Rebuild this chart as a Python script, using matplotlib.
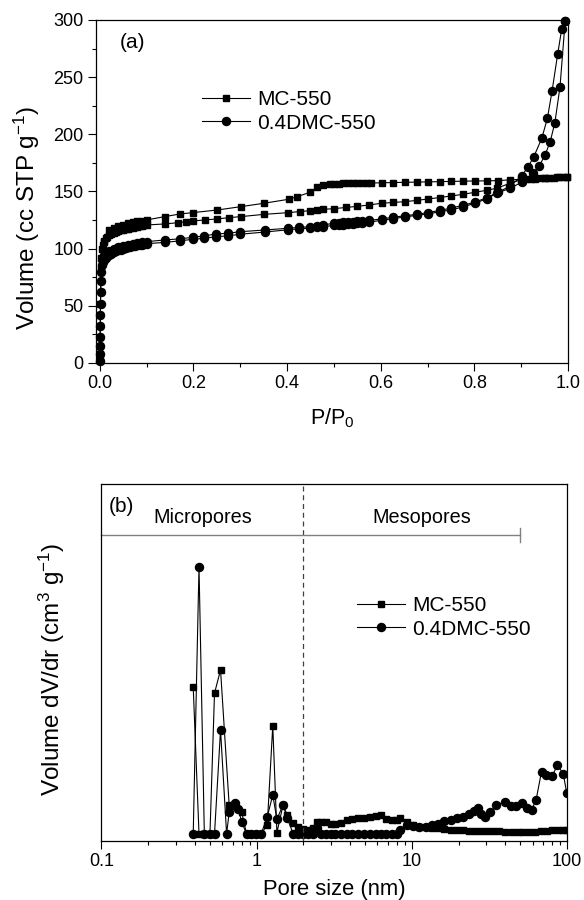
import matplotlib
matplotlib.use("Agg")
import matplotlib.pyplot as plt
from matplotlib.ticker import MultipleLocator, LogLocator, NullFormatter, FixedLocator, FixedFormatter

plt.rcParams['font.family'] = ['Liberation Sans', 'DejaVu Sans']
plt.rcParams['mathtext.fontset'] = 'custom'
plt.rcParams['mathtext.rm'] = 'Liberation Sans'
plt.rcParams['mathtext.it'] = 'Liberation Sans:italic'

# ---------------- Panel (a): N2 isotherms ----------------
mc_ads_p = [0.0003, 0.0005, 0.0007, 0.0009, 0.0011, 0.0013, 0.0015, 0.0018, 0.0022, 0.0028, 0.0036, 0.0045,
            0.006, 0.008, 0.01, 0.013, 0.016, 0.02, 0.025, 0.03, 0.035, 0.04, 0.045, 0.05, 0.055, 0.06, 0.065,
            0.07, 0.075, 0.08, 0.085, 0.09, 0.095, 0.1, 0.139, 0.167, 0.185, 0.199, 0.224, 0.251, 0.276, 0.301,
            0.351, 0.403, 0.427, 0.449, 0.463, 0.477, 0.501, 0.525, 0.55, 0.575, 0.602, 0.627, 0.652, 0.677,
            0.70, 0.726, 0.751, 0.776, 0.801, 0.826, 0.848, 0.876, 0.901, 0.926, 0.951, 0.976, 0.997]
mc_ads_v = [2, 8, 15, 23, 32, 42, 52, 62, 72, 82, 91.5, 99.4,
            103, 105.5, 107, 109, 110.5, 112, 113, 114, 114.8, 115.5, 116, 116.6, 117.1, 117.6, 118,
            118.4, 118.8, 119.2, 119.6, 120, 120.3, 120.7, 121.6, 122.7, 123.6, 124.2, 125.1, 126.0, 127.1, 128.0,
            130.0, 131.5, 132.4, 133.2, 133.8, 134.4, 135.0, 136.0, 137.0, 138.2, 139.7, 140.4, 141.1, 142.2,
            143.4, 144.7, 146.1, 147.5, 149.3, 151.0, 152.8, 157.2, 160.5, 161.5, 162.0, 162.5, 163.0]

mc_des_p = [0.997, 0.99, 0.98, 0.97, 0.96, 0.95, 0.94, 0.93, 0.92, 0.91, 0.90, 0.876, 0.851, 0.826, 0.801,
            0.776, 0.751, 0.726, 0.70, 0.677, 0.652, 0.627, 0.602, 0.58, 0.57, 0.56, 0.55, 0.54, 0.53, 0.52,
            0.51, 0.50, 0.491, 0.477, 0.465, 0.449, 0.422, 0.404, 0.351, 0.301, 0.251, 0.199, 0.171, 0.139,
            0.1, 0.09, 0.08, 0.07, 0.06, 0.05, 0.04, 0.03, 0.02]
mc_des_v = [163.0, 162.8, 162.5, 162.2, 162.0, 161.8, 161.5, 161.2, 161.0, 160.8, 160.6, 160.2, 159.5, 159.3,
            159.2, 159.0, 158.8, 158.6, 158.4, 158.2, 158.0, 157.8, 157.6, 157.4, 157.3, 157.2, 157.2, 157.1,
            157.0, 157.0, 156.9, 156.8, 156.6, 156.0, 153.7, 149.3, 145.5, 143.2, 139.7, 136.7, 133.8, 131.5,
            130.3, 128.0, 125.1, 124.5, 123.8, 123.0, 122.0, 121.0, 119.8, 118.3, 116.5]

dmc_ads_p = [0.0003, 0.0005, 0.0007, 0.0009, 0.0011, 0.0013, 0.0016, 0.002, 0.0026, 0.0036, 0.005, 0.007,
             0.01, 0.013, 0.016, 0.02, 0.025, 0.03, 0.035, 0.04, 0.045, 0.05, 0.055, 0.06, 0.065, 0.07, 0.075,
             0.08, 0.085, 0.09, 0.095, 0.1, 0.139, 0.171, 0.199, 0.223, 0.249, 0.274, 0.30, 0.352, 0.402, 0.425,
             0.449, 0.465, 0.477, 0.50, 0.51, 0.52, 0.53, 0.54, 0.55, 0.56, 0.576, 0.602, 0.627, 0.652, 0.677,
             0.70, 0.726, 0.751, 0.776, 0.801, 0.826, 0.848, 0.876, 0.901, 0.926, 0.939, 0.951, 0.962, 0.972,
             0.983, 0.994]
dmc_ads_v = [2, 8, 15, 23, 32, 42, 52, 62, 72, 80, 85.7, 88.5,
             90.5, 92, 93.2, 94.5, 95.7, 96.7, 97.6, 98.4, 99.1, 99.8, 100.4, 101.0, 101.5, 102.0, 102.4,
             102.8, 103.2, 103.6, 104.0, 104.3, 105.5, 106.8, 108.2, 109.0, 110.5, 111.2, 112.6, 114.5, 116.5,
             117.3, 118.0, 118.6, 119.2, 120.3, 120.7, 121.1, 121.5, 121.9, 122.2, 122.6, 123.2, 124.8, 126.2,
             127.8, 129.1, 130.4, 132.2, 134.0, 136.5, 139.7, 143.5, 148.4, 152.8, 158.0, 165.9, 172.6, 181.9,
             193.6, 210.2, 241.8, 299.4]

dmc_des_p = [0.994, 0.9865, 0.978, 0.966, 0.956, 0.944, 0.927, 0.915, 0.901, 0.876, 0.851, 0.826, 0.801,
             0.776, 0.751, 0.726, 0.70, 0.677, 0.652, 0.627, 0.602, 0.576, 0.56, 0.55, 0.54, 0.53, 0.52, 0.51,
             0.50, 0.477, 0.465, 0.449, 0.425, 0.402, 0.352, 0.30, 0.274, 0.249, 0.223, 0.199, 0.171, 0.139,
             0.1, 0.09, 0.08, 0.07, 0.06, 0.05, 0.04, 0.03, 0.02, 0.015, 0.01]
dmc_des_v = [299.4, 291.9, 270.3, 237.9, 214.0, 196.5, 180.4, 171.7, 163.6, 154.5, 149.5, 144.5, 140.6,
             138.0, 135.5, 133.4, 131.5, 130.0, 128.8, 127.5, 126.0, 124.8, 124.2, 123.8, 123.5, 123.2, 122.9,
             122.6, 122.2, 120.7, 120.1, 119.2, 118.6, 117.8, 116.3, 114.8, 113.5, 112.8, 111.2, 109.9, 108.6,
             107.6, 106.1, 105.5, 104.8, 104.0, 103.2, 102.3, 101.2, 99.8, 97.8, 96.5, 94.5]

# ---------------- Panel (b): pore size distributions ----------------
mc_d = [0.39, 0.425, 0.46, 0.50, 0.535, 0.585, 0.665, 0.72, 0.80, 0.86, 0.925, 0.99, 1.07, 1.17, 1.27,
        1.35, 1.48, 1.57, 1.72, 1.85, 2.0, 2.15, 2.3, 2.45, 2.6, 2.8, 3.0, 3.2, 3.5, 3.8, 4.1, 4.5, 4.9,
        5.4, 5.9, 6.3, 6.8, 7.4, 8.0, 8.4, 9.3, 10.2, 11.2, 12.3, 13.5, 14.8, 16.2, 17.8, 19.5, 21.3,
        23.3, 25.5, 28.0, 30.5, 33.5, 36.5, 40, 44, 48, 52, 57, 62, 68, 74, 80, 87, 94, 99.6]
mc_dv = [0.432, 0.02, 0.02, 0.02, 0.414, 0.479, 0.100, 0.098, 0.082, 0.02, 0.02, 0.02, 0.02, 0.045, 0.323,
         0.023, 0.101, 0.073, 0.050, 0.040, 0.033, 0.030, 0.035, 0.052, 0.054, 0.052, 0.048, 0.048, 0.050,
         0.060, 0.062, 0.063, 0.065, 0.066, 0.070, 0.073, 0.062, 0.058, 0.060, 0.064, 0.052, 0.045, 0.040,
         0.038, 0.036, 0.036, 0.034, 0.032, 0.030, 0.030, 0.029, 0.028, 0.028, 0.027, 0.027, 0.027, 0.026,
         0.026, 0.025, 0.025, 0.024, 0.025, 0.027, 0.029, 0.030, 0.031, 0.032, 0.031]

dmc_d = [0.39, 0.425, 0.46, 0.50, 0.535, 0.585, 0.64, 0.665, 0.724, 0.76, 0.80, 0.86, 0.925, 0.99, 1.07,
         1.17, 1.27, 1.35, 1.48, 1.57, 1.72, 1.85, 2.0, 2.15, 2.3, 2.45, 2.6, 2.8, 3.0, 3.2, 3.5, 3.8, 4.1,
         4.5, 4.9, 5.4, 5.9, 6.3, 6.8, 7.4, 8.0, 8.4, 9.3, 10.2, 11.2, 12.3, 13.5, 14.8, 16.2, 17.8, 19.5,
         21.3, 23.3, 25.0, 26.5, 28.0, 29.6, 32.0, 35.0, 39.8, 43.8, 47.0, 51.1, 55.2, 59.3, 63.2, 68.5,
         73.5, 80.2, 86.7, 94.6, 99.6]
dmc_dv = [0.02, 0.768, 0.02, 0.02, 0.02, 0.311, 0.02, 0.080, 0.106, 0.090, 0.054, 0.02, 0.02, 0.02, 0.02,
          0.068, 0.129, 0.061, 0.101, 0.065, 0.02, 0.02, 0.02, 0.02, 0.02, 0.036, 0.02, 0.02, 0.02, 0.02,
          0.02, 0.02, 0.02, 0.02, 0.02, 0.02, 0.02, 0.02, 0.02, 0.02, 0.02, 0.030, 0.045, 0.042, 0.040, 0.040,
          0.044, 0.048, 0.055, 0.060, 0.063, 0.068, 0.075, 0.085, 0.092, 0.075, 0.068, 0.080, 0.100, 0.110,
          0.097, 0.097, 0.105, 0.092, 0.088, 0.115, 0.194, 0.185, 0.181, 0.213, 0.188, 0.134]

labels = ['MC-550', '0.4DMC-550']
micro_meso_boundary = 2.0
meso_upper = 50.0

fig = plt.figure(figsize=(5.84, 9.0), dpi=100)

lw = 0.8
SQ = 5.0
CI = 5.8
# ---------- (a) ----------
ax1 = fig.add_axes([0.1644, 0.5967, 0.8082, 0.3811])
sq_kw = dict(color='black', marker='s', markersize=SQ, linewidth=lw, clip_on=False)
ci_kw = dict(color='black', marker='o', markersize=CI, linewidth=lw, clip_on=False)
l1, = ax1.plot(mc_ads_p, mc_ads_v, **sq_kw)
ax1.plot(mc_des_p, mc_des_v, **sq_kw)
l2, = ax1.plot(dmc_ads_p, dmc_ads_v, **ci_kw)
ax1.plot(dmc_des_p, dmc_des_v, **ci_kw)
ax1.set_xlim(-0.008, 1.0)
ax1.set_ylim(0, 300)
ax1.xaxis.set_major_locator(MultipleLocator(0.2))
ax1.xaxis.set_minor_locator(MultipleLocator(0.1))
ax1.yaxis.set_major_locator(MultipleLocator(50))
ax1.yaxis.set_minor_locator(MultipleLocator(25))
ax1.xaxis.set_major_formatter(plt.FuncFormatter(lambda v, p: f"{v:.1f}"))
ax1.tick_params(which='major', direction='out', length=5.5, width=0.8, labelsize=13, top=False, right=False)
ax1.tick_params(which='minor', direction='out', length=3, width=0.8, top=False, right=False)
for s in ax1.spines.values():
    s.set_linewidth(0.9)
ax1.set_xlabel('P/P$_0$', fontsize=15.5, labelpad=10)
ax1.set_ylabel('Volume (cc STP g$^{-1}$)', fontsize=17.5)
ax1.yaxis.set_label_coords(-0.114, 0.423)
ax1.text(0.078, 0.933, '(a)', transform=ax1.transAxes, fontsize=15, ha='center', va='center')
ax1.legend([l1, l2], labels, loc='center left', bbox_to_anchor=(0.224, 0.733), frameon=False,
           fontsize=15, numpoints=1, handlelength=2.3, handletextpad=0.35, labelspacing=0.2,
           borderpad=0, borderaxespad=0)

# ---------- (b) ----------
ax2 = fig.add_axes([0.1738, 0.0656, 0.7971, 0.3967])
m1, = ax2.plot(mc_d, mc_dv, color='black', marker='s', markersize=SQ, linewidth=lw)
m2, = ax2.plot(dmc_d, dmc_dv, color='black', marker='o', markersize=CI, linewidth=lw)
ax2.set_xscale('log')
ax2.set_xlim(0.1, 100)
ax2.set_ylim(0, 1.0)
ax2.axvline(micro_meso_boundary, color='#404040', linestyle=(0, (4, 3)), linewidth=0.9)
ax2.plot([0.1, meso_upper], [0.857, 0.857], color='#808080', linewidth=1.0, clip_on=False)
ax2.plot([meso_upper, meso_upper], [0.838, 0.876], color='#808080', linewidth=1.0)
ax2.xaxis.set_major_locator(FixedLocator([0.1, 1, 10, 100]))
ax2.xaxis.set_major_formatter(FixedFormatter(['0.1', '1', '10', '100']))
ax2.xaxis.set_minor_locator(LogLocator(base=10, subs=range(2, 10)))
ax2.xaxis.set_minor_formatter(NullFormatter())
ax2.set_yticks([])
ax2.tick_params(which='major', direction='out', length=5.5, width=0.8, labelsize=13, top=False)
ax2.tick_params(which='minor', direction='out', length=3, width=0.8, top=False)
for s in ax2.spines.values():
    s.set_linewidth(0.9)
ax2.set_xlabel('Pore size (nm)', fontsize=15.8, labelpad=6)
ax2.set_ylabel('Volume dV/dr (cm$^3$ g$^{-1}$)', fontsize=17.5)
ax2.yaxis.set_label_coords(-0.074, 0.48)
ax2.text(0.043, 0.936, '(b)', transform=ax2.transAxes, fontsize=15, ha='center', va='center')
ax2.text(0.218, 0.905, 'Micropores', transform=ax2.transAxes, fontsize=14.3, ha='center', va='center')
ax2.text(0.688, 0.905, 'Mesopores', transform=ax2.transAxes, fontsize=14.3, ha='center', va='center')
ax2.legend([m1, m2], labels, loc='center left', bbox_to_anchor=(0.548, 0.626), frameon=False,
           fontsize=15, numpoints=1, handlelength=2.3, handletextpad=0.35, labelspacing=0.2,
           borderpad=0, borderaxespad=0)

fig.savefig('out.png', dpi=100)
